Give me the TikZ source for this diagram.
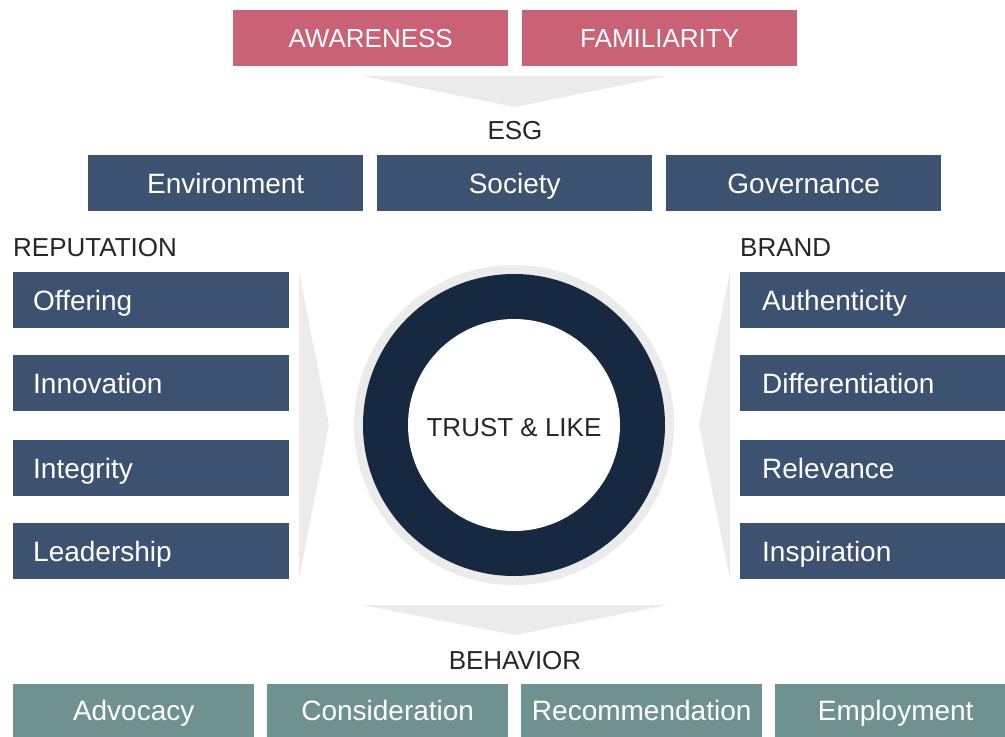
\documentclass[tikz,border=0pt]{standalone}
\usepackage{fontspec}
\setmainfont{Liberation Sans}
\definecolor{pinkc}{HTML}{C86274}
\definecolor{navyc}{HTML}{3D5270}
\definecolor{darkc}{HTML}{172940}
\definecolor{greyc}{HTML}{EBEBEB}
\definecolor{tealc}{HTML}{6F9291}
\definecolor{textc}{HTML}{262626}
\tikzset{
  box/.style={inner sep=0pt, text=white, font=\fontsize{28}{28}\selectfont,
    text height=20pt, text depth=0pt, anchor=north west},
  topbox/.style={box, fill=pinkc, minimum width=275pt, minimum height=56pt,
    font=\fontsize{26}{26}\selectfont, text height=18.6pt},
  esgbox/.style={box, fill=navyc, minimum width=275pt, minimum height=56pt},
  leftbox/.style={box, fill=navyc, minimum width=276pt, minimum height=56pt, align=left, text width=236pt, inner xsep=20pt},
  rightbox/.style={box, fill=navyc, minimum width=265pt, minimum height=56pt, align=left, text width=221pt, inner xsep=22pt},
  botbox/.style={box, fill=tealc, minimum width=241pt, minimum height=53pt},
  lbl/.style={inner sep=0pt, text=textc, font=\fontsize{26}{26}\selectfont, text height=18.6pt, text depth=0pt},
  chev/.style={fill=greyc, draw=none}
}
\begin{document}
\begin{tikzpicture}[x=1pt,y=-1pt]
\useasboundingbox[fill=white] (0,0) rectangle (1005,737);
% top
\node[topbox] (aw) at (233,10) {AWARENESS};
\node[topbox] (fam) at (522,10) {FAMILIARITY};
\fill[chev] (362,76) -- (667,76) -- (515,107) -- cycle;
\node[lbl] (esg) at (515,130) {ESG};
\node[esgbox] (env) at (88,155) {Environment};
\node[esgbox] (soc) at (377,155) {Society};
\node[esgbox] (gov) at (666,155) {Governance};
% side labels
\node[lbl, anchor=west] (rep) at (13,247) {REPUTATION};
\node[lbl, anchor=west] (brand) at (740,247) {BRAND};
% left boxes
\node[leftbox] (off) at (13,272) {Offering};
\node[leftbox] (inn) at (13,355) {Innovation};
\node[leftbox] (int) at (13,440) {Integrity};
\node[leftbox] (lead) at (13,523) {Leadership};
% right boxes
\node[rightbox] (auth) at (740,272) {Authenticity};
\node[rightbox] (diff) at (740,355) {Differentiation};
\node[rightbox] (rel) at (740,440) {Relevance};
\node[rightbox] (insp) at (740,523) {Inspiration};
% side chevrons
\fill[chev] (299,272) -- (329,425) -- (299,579) -- cycle;
\fill[chev] (730,272) -- (699,425) -- (730,579) -- cycle;
% circle
\fill[greyc] (514,425) circle (160);
\fill[darkc] (514,425) circle (151);
\fill[white] (514,425) circle (106);
\node[lbl] (trust) at (514,427) {TRUST \& LIKE};
% bottom
\fill[chev] (362,605) -- (667,605) -- (515,635) -- cycle;
\node[lbl] (beh) at (515,660) {BEHAVIOR};
\node[botbox] (adv) at (13,684) {Advocacy};
\node[botbox] (cons) at (267,684) {Consideration};
\node[botbox] (rec) at (521,684) {Recommendation};
\node[botbox] (emp) at (775,684) {Employment};
\end{tikzpicture}
\end{document}
